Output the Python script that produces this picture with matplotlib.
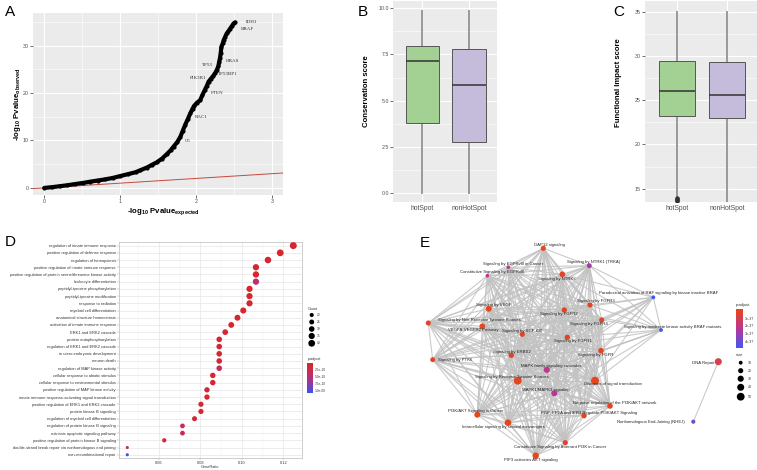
import numpy as np
import matplotlib
matplotlib.use("Agg")
import matplotlib.pyplot as plt
from matplotlib.colors import LinearSegmentedColormap, Normalize

plt.rcParams['font.family'] = ['Liberation Sans', 'DejaVu Sans']
plt.rcParams['mathtext.fontset'] = 'custom'
plt.rcParams['mathtext.rm'] = 'Liberation Sans'
plt.rcParams['mathtext.bf'] = 'Liberation Sans:bold'
plt.rcParams['mathtext.it'] = 'Liberation Sans:italic'

# ======================= DATA =======================
# --- Panel A: QQ plot ---
qq_expected = [0.00, 0.10, 0.20, 0.30, 0.40, 0.51, 0.60, 0.70, 0.80, 0.90, 1.00, 1.10,
               1.20, 1.26, 1.35, 1.42, 1.48, 1.55, 1.61, 1.66, 1.70, 1.75, 1.79, 1.82,
               1.85, 1.89, 1.92, 1.95, 1.97, 2.01, 2.05, 2.08, 2.11, 2.14, 2.16, 2.19,
               2.22, 2.25, 2.27, 2.29, 2.30, 2.31, 2.32, 2.33, 2.35, 2.36, 2.38, 2.40,
               2.42, 2.44, 2.47, 2.49, 2.51]
qq_observed = [0.00, 0.15, 0.35, 0.55, 0.80, 1.05, 1.30, 1.55, 1.80, 2.10, 2.50, 2.90,
               3.30, 3.70, 4.30, 4.90, 5.40, 6.20, 7.10, 7.90, 8.70, 9.70, 10.8, 12.0,
               13.2, 14.6, 15.7, 16.7, 17.3, 18.0, 18.5, 19.6, 20.6, 21.6, 22.4, 23.0,
               23.6, 24.3, 24.9, 25.7, 26.6, 27.3, 28.4, 29.8, 30.6, 31.2, 31.9, 32.6,
               33.0, 33.5, 34.2, 34.7, 34.9]
gene_names = ['IDH1', 'BRAF', 'HRAS', 'TP53', 'TP53BP1', 'PIK3R1', 'PTEN', 'RAC1', 'C6']
gene_lab_x = [2.72, 2.67, 2.47, 2.14, 2.41, 2.02, 2.27, 2.07, 1.89]
gene_lab_y = [34.9, 33.5, 26.8, 25.9, 24.0, 23.2, 20.1, 14.9, 9.8]

# --- Panels B & C: boxplots ---
groups = ['hotSpot', 'nonHotSpot']
cons_whislo = [0.0, 0.0]
cons_q1 = [3.76, 2.73]
cons_med = [7.14, 5.84]
cons_q3 = [7.96, 7.78]
cons_whishi = [9.85, 9.85]

fis_whislo = [14.0, 13.5]
fis_q1 = [23.24, 22.94]
fis_med = [26.0, 25.56]
fis_q3 = [29.46, 29.35]
fis_whishi = [35.0, 35.0]
fis_outliers_hot = [13.9, 13.8, 13.7, 13.6]

# --- Panel D: GO dotplot ---
go_terms = ['regulation of innate immune response',
            'positive regulation of defense response',
            'regulation of hemopoiesis',
            'positive regulation of innate immune response',
            'positive regulation of protein serine/threonine kinase activity',
            'leukocyte differentiation',
            'peptidyl-tyrosine phosphorylation',
            'peptidyl-tyrosine modification',
            'response to radiation',
            'myeloid cell differentiation',
            'anatomical structure homeostasis',
            'activation of innate immune response',
            'ERK1 and ERK2 cascade',
            'protein autophosphorylation',
            'regulation of ERK1 and ERK2 cascade',
            'in utero embryonic development',
            'neuron death',
            'regulation of MAP kinase activity',
            'cellular response to abiotic stimulus',
            'cellular response to environmental stimulus',
            'positive regulation of MAP kinase activity',
            'innate immune response-activating signal transduction',
            'positive regulation of ERK1 and ERK2 cascade',
            'protein kinase B signaling',
            'regulation of myeloid cell differentiation',
            'regulation of protein kinase B signaling',
            'extrinsic apoptotic signaling pathway',
            'positive regulation of protein kinase B signaling',
            'double-strand break repair via nonhomologous end joining',
            'non-recombinational repair']
go_ratio = [0.1248, 0.1185, 0.1126, 0.1068, 0.1068, 0.1068, 0.1037, 0.1037, 0.1037, 0.1007,
            0.0979, 0.0949, 0.0920, 0.0891, 0.0891, 0.0891, 0.0891, 0.0891, 0.0860, 0.0860,
            0.0832, 0.0832, 0.0803, 0.0803, 0.0772, 0.0714, 0.0714, 0.0626, 0.0448, 0.0448]
go_count = [42, 40, 38, 36, 36, 36, 35, 35, 35, 34, 33, 32, 31, 30, 30, 30, 30, 30, 29, 29,
            28, 28, 27, 27, 26, 24, 24, 21, 15, 15]
go_padj = [0.2e-10, 0.2e-10, 0.3e-10, 0.3e-10, 0.3e-10, 5.0e-10, 0.3e-10, 0.3e-10, 0.4e-10, 0.4e-10,
           0.4e-10, 0.4e-10, 0.5e-10, 0.5e-10, 0.5e-10, 0.5e-10, 0.6e-10, 3.2e-10, 0.6e-10, 0.6e-10,
           0.7e-10, 0.7e-10, 0.8e-10, 0.8e-10, 0.9e-10, 2.8e-10, 2.8e-10, 1.0e-10, 3.6e-10, 10.5e-10]
count_legend = [20, 25, 30, 35, 40]
padj_d_ticks = [2.5e-10, 5.0e-10, 7.5e-10, 1.0e-09]
padj_d_labels = ['2.5e-10', '5.0e-10', '7.5e-10', '1.0e-09']

# --- Panel E: pathway network ---
net_names = ['DAP12 signaling', 'Signaling by EGFRvIII in Cancer',
             'Constitutive Signaling by EGFRvIII', 'Signaling by NTRK1 (TRKA)',
             'Signaling by NTRKs', 'Signaling by VEGF',
             'Signaling by Non-Receptor Tyrosine Kinases', 'VEGFA-VEGFR2 Pathway',
             'Signaling by SCF-KIT', 'Signaling by PTK6', 'Signaling by ERBB2',
             'MAPK family signaling cascades', 'Signaling by Receptor Tyrosine Kinases',
             'MAPK1/MAPK3 signaling', 'PI3K/AKT Signaling in Cancer',
             'Intracellular signaling by second messengers',
             'Constitutive Signaling by Aberrant PI3K in Cancer',
             'PIP3 activates AKT signaling', 'Signaling by FGFR2', 'Signaling by FGFR3',
             'Signaling by FGFR4', 'Signaling by FGFR1', 'Signaling by FGFR',
             'Diseases of signal transduction',
             'Negative regulation of the PI3K/AKT network',
             'PI5P, PP2A and IER3 Regulate PI3K/AKT Signaling',
             'Paradoxical activation of RAF signaling by kinase inactive BRAF',
             'Signaling by moderate kinase activity BRAF mutants',
             'DNA Repair', 'Nonhomologous End-Joining (NHEJ)']
# layout coordinates of nodes and labels
net_x = [543.3, 508.3, 487.3, 589.3, 562.3, 488.7, 428.3, 482.3, 522.3, 432.7, 511.3, 546.8,
         517.7, 554.3, 477.3, 508.0, 565.3, 535.7, 564.3, 590.0, 601.7, 567.3, 601.0, 595.0,
         610.0, 584.0, 653.3, 661.0, 718.3, 693.3]
net_y = [248.3, 267.3, 275.7, 265.7, 274.3, 308.7, 323.0, 326.3, 334.3, 359.7, 355.3, 369.8,
         380.7, 393.3, 414.7, 422.7, 442.7, 455.7, 310.0, 305.0, 320.0, 337.3, 350.7, 380.7,
         406.0, 415.7, 297.3, 330.0, 361.7, 421.7]
net_lab_x = [549.0, 512.7, 492.3, 594.0, 556.7, 493.3, 479.3, 473.7, 522.3, 454.7, 511.7, 551.7,
             512.0, 546.3, 476.3, 503.0, 560.0, 530.7, 559.3, 595.7, 589.0, 572.7, 595.3, 613.3,
             615.0, 589.0, 659.0, 672.7, 703.3, 650.7]
net_lab_y = [245.0, 264.0, 272.3, 262.0, 279.0, 305.3, 320.3, 329.7, 331.0, 359.7, 352.0, 365.7,
             376.7, 390.0, 411.0, 426.7, 447.0, 460.0, 314.0, 301.0, 324.3, 341.0, 355.0, 384.0,
             402.7, 412.7, 293.3, 327.3, 363.3, 422.0]
net_size = [20, 8, 8, 18, 25, 28, 20, 26, 20, 18, 22, 30, 50, 28, 28, 35, 20, 33, 22, 20,
            20, 22, 24, 52, 24, 22, 10, 10, 40, 12]
net_padj = [0.05e-37, 2.0e-37, 2.1e-37, 2.9e-37, 0.3e-37, 0.05e-37, 0.3e-37, 0.05e-37, 0.1e-37,
            0.3e-37, 0.1e-37, 2.2e-37, 0.01e-37, 2.5e-37, 0.01e-37, 0.01e-37, 0.5e-37, 0.01e-37,
            0.1e-37, 0.2e-37, 0.2e-37, 0.2e-37, 0.1e-37, 0.01e-37, 0.1e-37, 0.1e-37, 4.9e-37,
            4.7e-37, 0.9e-37, 3.9e-37]
cluster_main = list(range(26))
braf_nodes = [26, 27]
braf_partners = [3, 4, 10, 11, 12, 13, 18, 19, 20, 21, 22, 23]
extra_edges = [(26, 27), (28, 29)]
size_legend = [10, 20, 30, 40, 50]
padj_e_ticks = [1e-37, 2e-37, 3e-37, 4e-37]
padj_e_labels = ['1e-37', '2e-37', '3e-37', '4e-37']

# ======================= FIGURE =======================
W, H = 757, 470
fig = plt.figure(figsize=(7.57, 4.70), dpi=100)
fig.patch.set_facecolor('white')


def ax_px(l, t, r, b, **kw):
    return fig.add_axes([l / W, 1 - b / H, (r - l) / W, (b - t) / H], **kw)


def gg_style(ax):
    ax.set_facecolor('#EBEBEB')
    for s in ax.spines.values():
        s.set_visible(False)
    ax.set_axisbelow(True)
    ax.grid(which='major', color='white', lw=0.8)
    ax.grid(which='minor', color='white', lw=0.4)
    ax.tick_params(which='major', length=2, width=0.5, color='#333333',
                   labelcolor='#4D4D4D', labelsize=3.8, pad=1)
    ax.tick_params(which='minor', length=0)


# ---------- Panel A ----------
axA = ax_px(33, 13, 283, 195)
gg_style(axA)
axA.set_xlim(-0.149, 3.14)
axA.set_ylim(-1.5, 36.9)
axA.set_xticks([0, 1, 2, 3])
axA.set_xticks([0.5, 1.5, 2.5], minor=True)
axA.set_yticks([0, 10, 20, 30])
axA.set_yticks([5, 15, 25, 35], minor=True)
lim = np.array([-0.2, 3.2])
axA.plot(lim, lim, color='#C8483A', lw=0.7, zorder=2)
axA.plot(qq_expected, qq_observed, color='black', lw=3.0,
         solid_capstyle='round', solid_joinstyle='round', zorder=3)
axA.scatter(qq_expected, qq_observed, s=9, color='black', lw=0, zorder=3)
for g, gx, gy in zip(gene_names, gene_lab_x, gene_lab_y):
    axA.text(gx, gy, g, fontsize=3.6, family='Liberation Serif', color='#333333',
             ha='center', va='center', zorder=4)
fig.text(163 / W, 1 - 212 / H,
         r'-log$_{\mathbf{10}}$ Pvalue$_{\mathbf{expected}}$',
         fontsize=5.6, fontweight='bold', ha='center', va='center')
fig.text(17.5 / W, 1 - 104 / H,
         r'-log$_{\mathbf{10}}$ Pvalue$_{\mathbf{observed}}$',
         fontsize=5.6, fontweight='bold', ha='center', va='center', rotation=90)

# ---------- Panels B and C ----------
box_fill = ['#A3D193', '#C5BBDB']


def draw_box(ax, whislo, q1, med, q3, whishi, fliers):
    stats = []
    for i in range(len(groups)):
        stats.append(dict(whislo=whislo[i], q1=q1[i], med=med[i], q3=q3[i],
                          whishi=whishi[i], fliers=fliers[i], label=groups[i]))
    bp = ax.bxp(stats, positions=[1, 2], widths=0.72, patch_artist=True, showcaps=False,
                boxprops=dict(edgecolor='#555555', lw=0.7),
                whiskerprops=dict(color='#999999', lw=1.4),
                medianprops=dict(color='#333333', lw=1.1),
                flierprops=dict(marker='o', markersize=2.2, markerfacecolor='#333333',
                                markeredgecolor='#333333'))
    for patch, c in zip(bp['boxes'], box_fill):
        patch.set_facecolor(c)
        patch.set_zorder(3)
    for m in bp['medians']:
        m.set_zorder(4)
    ax.set_xlim(0.37, 2.6)
    ax.set_xticks([1, 2])
    ax.set_xticklabels(groups)
    ax.tick_params(axis='x', labelsize=4.9, length=0, pad=2)


axB = ax_px(393, 1, 497, 202)
gg_style(axB)
draw_box(axB, cons_whislo, cons_q1, cons_med, cons_q3, cons_whishi, [[], []])
axB.set_ylim(-0.5, 10.4)
axB.set_yticks([0, 2.5, 5, 7.5, 10])
axB.set_yticklabels(['0.0', '2.5', '5.0', '7.5', '10.0'])
axB.set_yticks([1.25, 3.75, 6.25, 8.75], minor=True)
fig.text(366 / W, 1 - 91 / H, 'Conservation score', fontsize=5.6, fontweight='bold',
         rotation=90, ha='center', va='center')

axC = ax_px(645, 1, 757, 202)
gg_style(axC)
draw_box(axC, fis_whislo, fis_q1, fis_med, fis_q3, fis_whishi, [fis_outliers_hot, []])
axC.set_ylim(13.5, 36.2)
axC.set_yticks([15, 20, 25, 30, 35])
axC.set_yticks([17.5, 22.5, 27.5, 32.5], minor=True)
fig.text(619 / W, 1 - 83 / H, 'Functional Impact score', fontsize=5.6, fontweight='bold',
         rotation=90, ha='center', va='center')

# ---------- Panel D ----------
cmapD = LinearSegmentedColormap.from_list('d', ['#D8262A', '#B8307A', '#3C50EE'])
normD = Normalize(vmin=0.0, vmax=1.07e-9)


def count_to_s(c):
    return 5.0 + (np.asarray(c, dtype=float) - 15.0) * 0.75


axD = ax_px(119, 242, 302, 458)
axD.set_facecolor('white')
for s in axD.spines.values():
    s.set_color('#BBBBBB')
    s.set_linewidth(0.5)
ypos = np.arange(len(go_terms))
axD.set_ylim(len(go_terms) - 0.55, -0.5)
axD.set_xlim(0.0408, 0.129)
axD.set_xticks([0.06, 0.08, 0.10, 0.12])
axD.set_xticklabels(['0.06', '0.08', '0.10', '0.12'])
axD.set_xticks([0.05, 0.07, 0.09, 0.11], minor=True)
axD.set_yticks(ypos)
axD.set_yticklabels(go_terms)
axD.set_axisbelow(True)
axD.grid(which='major', color='#E6E6E6', lw=0.5)
axD.grid(which='minor', axis='x', color='#F0F0F0', lw=0.3)
axD.tick_params(which='major', length=1.2, width=0.3, color='#999999', labelsize=2.9,
                labelcolor='#333333', pad=1)
axD.tick_params(axis='x', labelsize=2.8)
axD.tick_params(which='minor', length=0)
axD.scatter(go_ratio, ypos, s=count_to_s(go_count), c=go_padj, cmap=cmapD, norm=normD,
            lw=0, zorder=3)
fig.text(210 / W, 1 - 467 / H, 'GeneRatio', fontsize=2.8, color='#333333',
         ha='center', va='center')

# overlay for legends and panel letters
axO = fig.add_axes([0, 0, 1, 1], facecolor='none')
axO.set_xlim(0, W)
axO.set_ylim(H, 0)
axO.axis('off')

axO.text(307.3, 309, 'Count', fontsize=2.7, color='#333333', ha='left', va='center')
cy = [315, 322, 329, 336, 343.3]
axO.scatter([311.7] * len(count_legend), cy, s=count_to_s(count_legend), color='black', lw=0)
for c, yy in zip(count_legend, cy):
    axO.text(316.5, yy, str(c), fontsize=2.3, color='#333333', ha='left', va='center')
axO.text(307.3, 358.7, 'p.adjust', fontsize=2.7, color='#333333', ha='left', va='center')
cbD = ax_px(306.7, 362.7, 312.3, 392.7)
grad = np.linspace(normD.vmin, normD.vmax, 256)[:, None]
cbD.imshow(grad, aspect='auto', cmap=cmapD, norm=normD,
           extent=[0, 1, normD.vmax, normD.vmin])
cbD.set_ylim(normD.vmax, normD.vmin)
cbD.set_xticks([])
cbD.yaxis.tick_right()
cbD.set_yticks(padj_d_ticks)
cbD.set_yticklabels(padj_d_labels)
cbD.tick_params(axis='y', length=0, labelsize=2.3, labelcolor='#333333', pad=1.5)
for s in cbD.spines.values():
    s.set_visible(False)

# ---------- Panel E ----------
cmapE = LinearSegmentedColormap.from_list('e', ['#E6461C', '#B8369A', '#3F5AF2'])
normE = Normalize(vmin=0.0, vmax=4.95e-37)


def size_to_s(v):
    return 6.5 + (np.asarray(v, dtype=float) - 8.0) * 0.6


axE = ax_px(380, 230, 757, 470, facecolor='none')
axE.set_xlim(380, 757)
axE.set_ylim(470, 230)
axE.axis('off')

edges = []
for i in range(len(cluster_main)):
    for j in range(i + 1, len(cluster_main)):
        edges.append((cluster_main[i], cluster_main[j]))
for b in braf_nodes:
    for p in braf_partners:
        edges.append((b, p))
edges += extra_edges
for (i, j) in edges:
    axE.plot([net_x[i], net_x[j]], [net_y[i], net_y[j]], color='#C2C2C2', lw=0.8,
             alpha=0.85, zorder=1, solid_capstyle='round')
axE.scatter(net_x, net_y, s=size_to_s(net_size), c=net_padj, cmap=cmapE, norm=normE,
            lw=0, zorder=3)
for name, lx, ly in zip(net_names, net_lab_x, net_lab_y):
    axE.text(lx, ly, name, fontsize=3.1, color='#262626', ha='center', va='center', zorder=4)

axO.text(735.7, 305, 'p.adjust', fontsize=3.0, color='#333333', ha='left', va='center')
cbE = ax_px(735.7, 309.3, 742.7, 348.3)
vmin_e, vmax_e = -0.19e-37, 4.96e-37
gradE = np.linspace(vmin_e, vmax_e, 256)[:, None]
cbE.imshow(gradE, aspect='auto', cmap=cmapE, norm=normE, extent=[0, 1, vmax_e, vmin_e])
cbE.set_ylim(vmax_e, vmin_e)
cbE.set_xticks([])
cbE.yaxis.tick_right()
cbE.set_yticks(padj_e_ticks)
cbE.set_yticklabels(padj_e_labels)
cbE.tick_params(axis='y', length=0, labelsize=2.6, labelcolor='#333333', pad=1.5)
for s in cbE.spines.values():
    s.set_visible(False)
axO.text(735.7, 355, 'size', fontsize=3.0, color='#333333', ha='left', va='center')
sy = [362.7, 370.7, 378.7, 387.3, 396.7]
axO.scatter([740.7] * len(size_legend), sy, s=size_to_s(size_legend), color='black', lw=0)
for v, yy in zip(size_legend, sy):
    axO.text(747.5, yy, str(v), fontsize=2.6, color='#333333', ha='left', va='center')

# panel letters
for letter, lx, ly in [('A', 10.5, 12.5), ('B', 363, 12.5), ('C', 619, 12.5),
                       ('D', 10, 242.5), ('E', 424.7, 243)]:
    axO.text(lx, ly, letter, fontsize=11, color='black', ha='center', va='center')

fig.savefig('out.png', dpi=100)
